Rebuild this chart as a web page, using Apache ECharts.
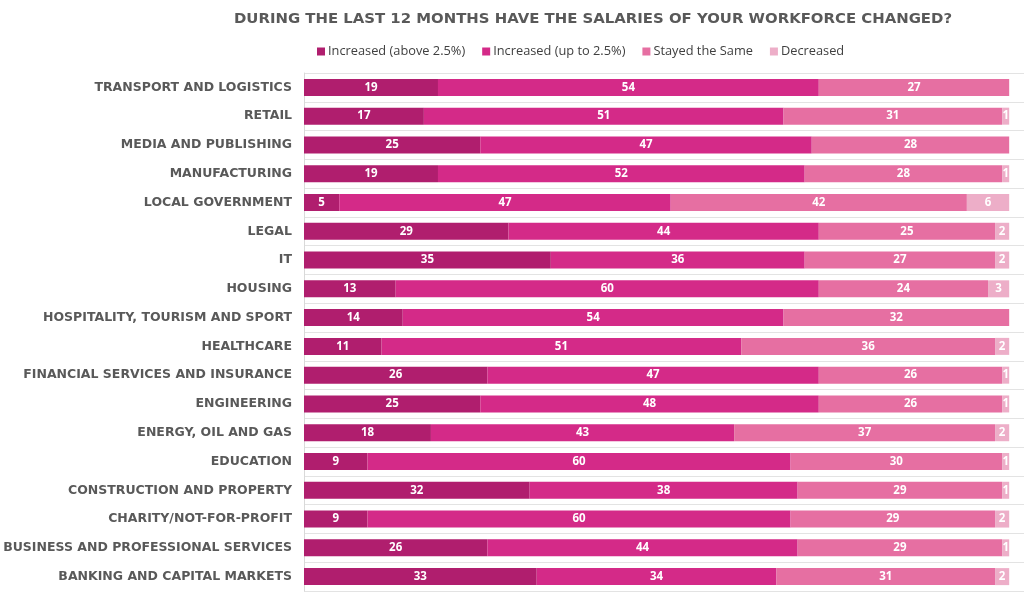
<!DOCTYPE html>
<html><head><meta charset="utf-8">
<script src="https://cdn.jsdelivr.net/npm/echarts@6/dist/echarts.min.js"></script>
<style>html,body{margin:0;padding:0;background:#fff}#c{width:1024px;height:600px}</style>
</head><body><div id="c"></div>
<script>
const categories = ["TRANSPORT AND LOGISTICS","RETAIL","MEDIA AND PUBLISHING","MANUFACTURING","LOCAL GOVERNMENT","LEGAL","IT","HOUSING","HOSPITALITY, TOURISM AND SPORT","HEALTHCARE","FINANCIAL SERVICES AND INSURANCE","ENGINEERING","ENERGY, OIL AND GAS","EDUCATION","CONSTRUCTION AND PROPERTY","CHARITY/NOT-FOR-PROFIT","BUSINESS AND PROFESSIONAL SERVICES","BANKING AND CAPITAL MARKETS"];
const seriesNames = ["Increased (above 2.5%)","Increased (up to 2.5%)","Stayed the Same","Decreased"];
const above25 = [19,17,25,19,5,29,35,13,14,11,26,25,18,9,32,9,26,33];
const upTo25 = [54,51,47,52,47,44,36,60,54,51,47,48,43,60,38,60,44,34];
const same = [27,31,28,28,42,25,27,24,32,36,26,26,37,30,29,29,29,31];
const decreased = [0,1,0,1,6,2,2,3,0,2,1,1,2,1,1,2,1,2];
const colors = ["#B01E6E","#D42A88","#E66FA2","#EDAEC8"];
const values = [above25, upTo25, same, decreased];

const chart = echarts.init(document.getElementById('c'));
chart.setOption({
  animation:false,
  title:{text:"DURING THE LAST 12 MONTHS HAVE THE SALARIES OF YOUR WORKFORCE CHANGED?",left:588,textAlign:'center',top:7,
    textStyle:{fontFamily:'DejaVu Sans',fontWeight:'bold',fontSize:14.9,color:'#595959'}},
  legend:{top:40,left:312,itemWidth:8,itemHeight:8,itemGap:17,icon:'rect',
    textStyle:{fontFamily:'Open Sans',fontSize:12.8,color:'#404040',padding:[0,0,0,-2]},
    data:seriesNames},
  grid:{left:304,right:0,top:73,bottom:9},
  xAxis:{type:'value',min:0,max:102.1,show:false},
  yAxis:{type:'category',inverse:true,data:categories,
    axisLine:{show:true,lineStyle:{color:'#d9d9d9'}},axisTick:{show:false},
    splitLine:{show:true,lineStyle:{color:'#e3e3e3'}},
    axisLabel:{fontFamily:'DejaVu Sans',fontWeight:'bold',fontSize:12.5,color:'#595959',margin:12}},
  series: values.map((v,i)=>({
    name:seriesNames[i],type:'bar',stack:'t',barWidth:17,
    itemStyle:{color:colors[i]},
    data:v.map(x=>x===0?null:x),
    label:{show:true,position:'inside',color:'#fff',fontFamily:'Open Sans',fontWeight:'bold',fontSize:11.5,
      formatter:p=>p.value}
  }))
});
</script></body></html>
